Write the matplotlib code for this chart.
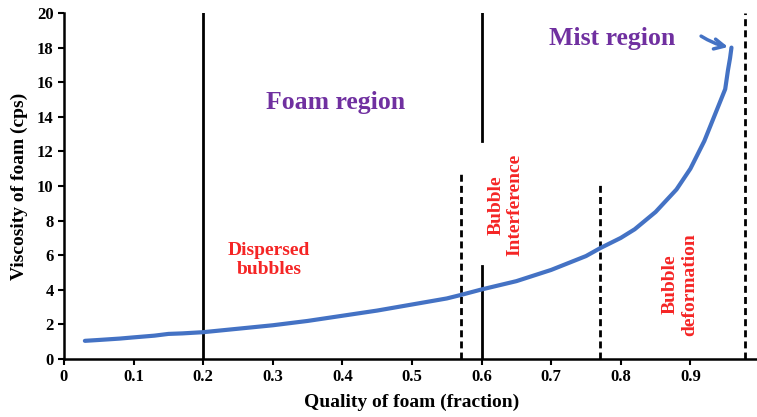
import matplotlib
matplotlib.use("Agg")
import matplotlib.pyplot as plt

plt.rcParams['font.family'] = ['Liberation Serif', 'DejaVu Serif']
plt.rcParams['font.weight'] = 'bold'

quality = [0.03, 0.05, 0.08, 0.10, 0.13, 0.15, 0.17, 0.20, 0.25, 0.30, 0.35, 0.40,
           0.45, 0.50, 0.55, 0.57, 0.60, 0.65, 0.70, 0.75, 0.77, 0.80, 0.82, 0.85,
           0.88, 0.90, 0.92, 0.93, 0.94, 0.95, 0.954, 0.957, 0.959]
viscosity = [1.05, 1.10, 1.18, 1.25, 1.35, 1.45, 1.48, 1.55, 1.75, 1.95, 2.20, 2.50,
             2.80, 3.15, 3.50, 3.70, 4.02, 4.50, 5.15, 5.95, 6.40, 7.00, 7.50, 8.50,
             9.80, 11.0, 12.6, 13.6, 14.6, 15.6, 16.7, 17.4, 18.0]

x_ticks = [0, 0.1, 0.2, 0.3, 0.4, 0.5, 0.6, 0.7, 0.8, 0.9]
x_tick_labels = ['0', '0.1', '0.2', '0.3', '0.4', '0.5', '0.6', '0.7', '0.8', '0.9']
y_ticks = [0, 2, 4, 6, 8, 10, 12, 14, 16, 18, 20]

W, H = 757, 417
fig = plt.figure(figsize=(W / 100, H / 100), dpi=100)
ax = fig.add_axes([64 / W, 58 / H, 696 / W, 346 / H])
ax.set_xlim(0, 1.0)
ax.set_ylim(0, 20)

blue = '#4472C4'
ax.plot(quality, viscosity, color=blue, lw=3, solid_capstyle='round',
        solid_joinstyle='round', zorder=3)

# boundary lines
ax.plot([0.2, 0.2], [0, 20], color='black', lw=2)
ax.plot([0.6, 0.6], [12.6, 20], color='black', lw=2)
ax.plot([0.6, 0.6], [0, 5.4], color='black', lw=2)
ax.plot([0.57, 0.57], [0, 10.8], color='black', lw=2, ls=(0, (2.5, 1.5)))
ax.plot([0.77, 0.77], [0, 10.25], color='black', lw=2, ls=(0, (2.5, 1.5)))
ax.plot([0.978, 0.978], [0, 20], color='black', lw=2, ls=(0, (2.5, 1.5)))

purple = '#7030A0'
red = '#F52525'
ax.text(0.39, 14.8, 'Foam region', color=purple, fontsize=18.5, fontweight='bold',
        ha='center', va='center')
ax.text(0.787, 18.55, 'Mist region', color=purple, fontsize=18.5, fontweight='bold',
        ha='center', va='center')
ax.annotate('', xy=(0.958, 18.0), xytext=(0.912, 18.75),
            arrowprops=dict(arrowstyle='->', color=blue, lw=2.5,
                            mutation_scale=18, connectionstyle='arc3,rad=0.1'))
ax.text(0.295, 5.7, 'Dispersed\nbubbles', color=red, fontsize=14, fontweight='bold',
        ha='center', va='center', linespacing=1.15)
ax.text(0.634, 8.9, 'Bubble\nInterference', color=red, fontsize=14, fontweight='bold',
        ha='center', va='center', rotation=90, linespacing=1.15)
ax.text(0.885, 4.3, 'Bubble\ndeformation', color=red, fontsize=14, fontweight='bold',
        ha='center', va='center', rotation=90, linespacing=1.15)

ax.set_xticks(x_ticks)
ax.set_xticklabels(x_tick_labels)
ax.set_yticks(y_ticks)
ax.tick_params(axis='both', labelsize=12, width=1.5, length=4, direction='out')
for lbl in ax.get_xticklabels() + ax.get_yticklabels():
    lbl.set_fontweight('bold')
ax.spines['top'].set_visible(False)
ax.spines['right'].set_visible(False)
ax.spines['left'].set_linewidth(1.8)
ax.spines['bottom'].set_linewidth(1.8)
ax.set_xlabel('Quality of foam (fraction)', fontsize=14, fontweight='bold', labelpad=6)
ax.set_ylabel('Viscosity of foam (cps)', fontsize=14, fontweight='bold', labelpad=6)

fig.savefig('out.png', dpi=100)
